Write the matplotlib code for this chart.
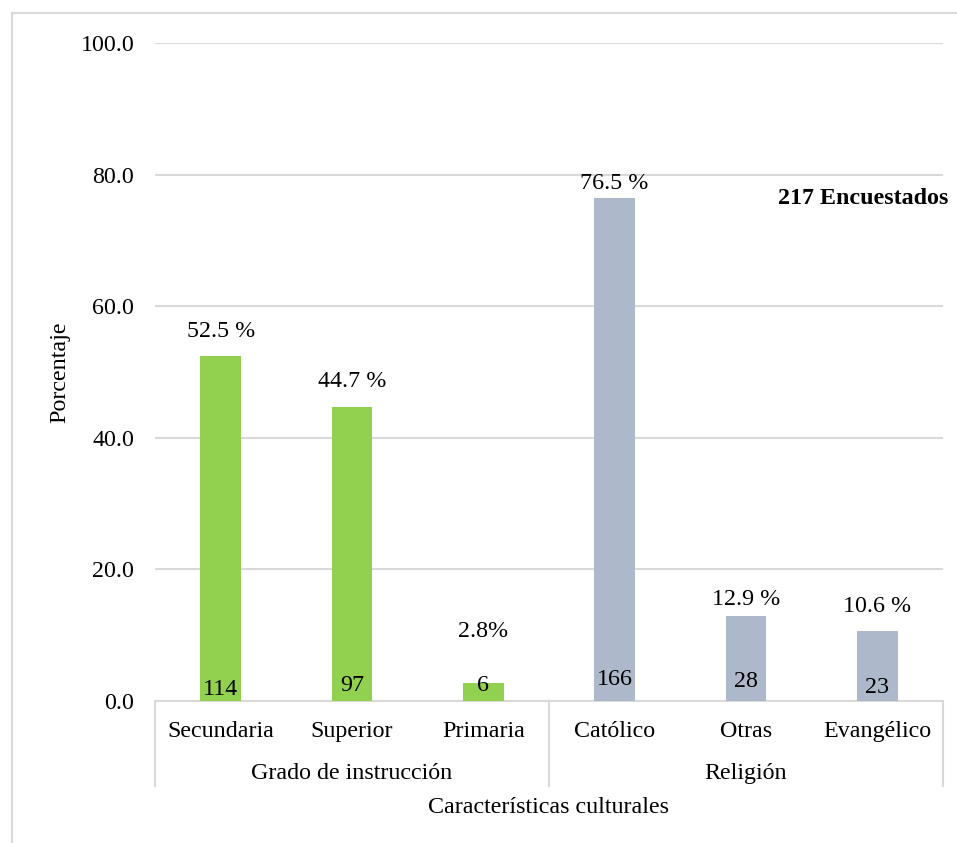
import matplotlib
matplotlib.use("Agg")
import matplotlib.pyplot as plt
from matplotlib.patches import Rectangle
from matplotlib.lines import Line2D

plt.rcParams['font.family'] = ['Liberation Serif', 'DejaVu Serif']

categories = ["Secundaria", "Superior", "Primaria", "Católico", "Otras", "Evangélico"]
groups = ["Grado de instrucción", "Religión"]
group_sizes = [3, 3]
percentages = [52.5, 44.7, 2.8, 76.5, 12.9, 10.6]
pct_labels = ["52.5 %", "44.7 %", "2.8%", "76.5 %", "12.9 %", "10.6 %"]
counts = [114, 97, 6, 166, 28, 23]
yticks = [0, 20, 40, 60, 80, 100]

# label placement (style)
pct_offsets = [3.6, 3.9, 7.7, 2.1, 2.6, 3.8]
count_y = [1.7, 2.4, 2.3, 3.3, 3.0, 2.0]
colors = ["#92D050"] * 3 + ["#ADB9CA"] * 3

W, H = 957, 843
fig = plt.figure(figsize=(W / 100, H / 100), dpi=100)
ax = fig.add_axes([155 / W, (H - 701) / H, (943 - 155) / W, (701 - 43) / H])

fs = 17.3
x = list(range(len(categories)))
ax.bar(x, percentages, width=0.31, color=colors, zorder=3)
ax.set_xlim(-0.5, len(categories) - 0.5)
ax.set_ylim(0, 100)
ax.set_yticks(yticks)
ax.set_yticklabels([f"{v:.1f}" for v in yticks], fontsize=fs)
ax.tick_params(axis='y', length=0, pad=15)
ax.set_xticks([])
for s in ['top', 'right', 'left']:
    ax.spines[s].set_visible(False)
ax.spines['bottom'].set_color('#D9D9D9')
ax.spines['bottom'].set_linewidth(1.5)
ax.yaxis.grid(True, color='#D9D9D9', linewidth=1.5, zorder=0)
ax.set_axisbelow(True)

for xi, p, lab, off in zip(x, percentages, pct_labels, pct_offsets):
    ax.text(xi, p + off, lab, ha='center', va='center', fontsize=fs)
for xi, c, cy in zip(x, counts, count_y):
    ax.text(xi, cy, str(c), ha='center', va='center', fontsize=fs, zorder=4)

trans = ax.get_xaxis_transform()
ax_h = 701 - 43
def yfrac(py):
    return (701 - py) / ax_h

for xi, cat in zip(x, categories):
    ax.text(xi, yfrac(737), cat, transform=trans, ha='center', va='baseline', fontsize=fs)

start = 0
bounds = [-0.5]
for g, n in zip(groups, group_sizes):
    center = start + (n - 1) / 2
    ax.text(center, yfrac(779), g, transform=trans, ha='center', va='baseline', fontsize=fs)
    start += n
    bounds.append(start - 0.5)
for b in bounds:
    ax.add_line(Line2D([b, b], [0, yfrac(786)], transform=trans, color='#D9D9D9',
                       linewidth=1.5, clip_on=False))

ax.text(0.5, yfrac(813), "Características culturales", transform=ax.transAxes,
        ha='center', va='baseline', fontsize=fs)
ax.set_ylabel("Porcentaje", fontsize=fs, labelpad=7)

ax.text((948 - 155) / 788, (701 - 199) / ax_h, "217 Encuestados", transform=ax.transAxes,
        ha='right', va='center', fontsize=fs, fontweight='bold')

fig.add_artist(Rectangle((11.5 / W, -0.1), 2, 1.1 - 13.5 / H, transform=fig.transFigure,
                         fill=False, edgecolor='#D9D9D9', linewidth=1.5))

fig.savefig("out.png", dpi=100)
